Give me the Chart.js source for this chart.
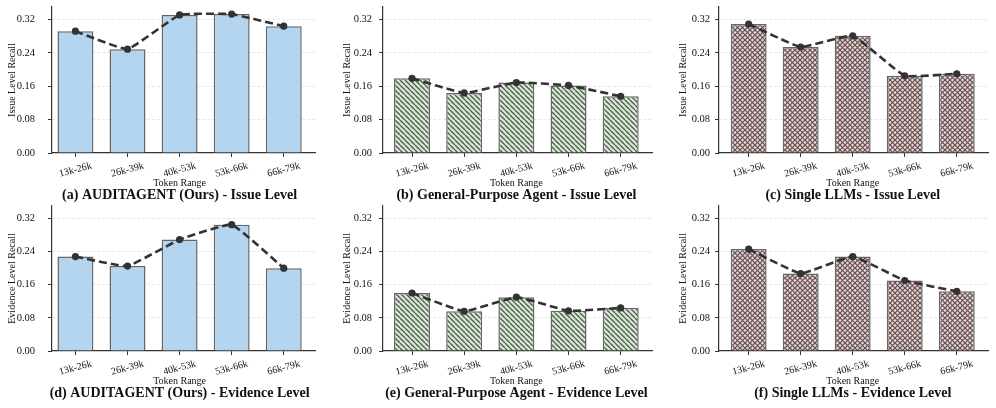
<!DOCTYPE html>
<html lang="en">
<head>
    <meta charset="UTF-8">
    <title>Recall by Token Range</title>
    <script src="https://cdn.jsdelivr.net/npm/chart.js"></script>
    <style>
        body { margin: 0; background: #fff; }
        .wrapper { position: relative; width: 996px; height: 408px; }
        .wrapper canvas { position: absolute; }
    </style>
</head>
<body>
    <div class="wrapper">
        <canvas id="chartA" style="left:0;top:0" width="330" height="204"></canvas>
        <canvas id="chartB" style="left:330px;top:0" width="330" height="204"></canvas>
        <canvas id="chartC" style="left:660px;top:0" width="336" height="204"></canvas>
        <canvas id="chartD" style="left:0;top:198px" width="330" height="210"></canvas>
        <canvas id="chartE" style="left:330px;top:198px" width="330" height="210"></canvas>
        <canvas id="chartF" style="left:660px;top:198px" width="336" height="210"></canvas>
    </div>

    <script>
        const categories = ['13k-26k', '26k-39k', '40k-53k', '53k-66k', '66k-79k'];
        const yTicks = [0, 0.08, 0.16, 0.24, 0.32];

        const auditIssue = [0.292, 0.249, 0.331, 0.333, 0.304];
        const generalIssue = [0.179, 0.144, 0.169, 0.162, 0.136];
        const singleIssue = [0.309, 0.254, 0.281, 0.185, 0.190];
        const auditEvidence = [0.228, 0.205, 0.269, 0.305, 0.200];
        const generalEvidence = [0.140, 0.096, 0.130, 0.097, 0.104];
        const singleEvidence = [0.246, 0.187, 0.228, 0.170, 0.144];

        const SERIF = "'Liberation Serif', 'DejaVu Serif', serif";

        // hatch tiles like matplotlib '\\' and 'xx'
        function makeFill(ctx, bg, kind) {
            if (kind === 'none') return bg;
            const s = 5;
            const tile = document.createElement('canvas');
            tile.width = s; tile.height = s;
            const t = tile.getContext('2d');
            t.fillStyle = bg;
            t.fillRect(0, 0, s, s);
            t.strokeStyle = '#555';
            t.lineWidth = kind === 'cross' ? 1.2 : 1.3;
            for (const x0 of [-s, 0, s]) {
                t.beginPath();
                t.moveTo(x0, 0); t.lineTo(x0 + s, s);
                t.stroke();
                if (kind === 'cross') {
                    t.beginPath();
                    t.moveTo(x0 + s, 0); t.lineTo(x0, s);
                    t.stroke();
                }
            }
            return ctx.createPattern(tile, 'repeat');
        }

        const bottomText = {
            id: 'bottomText',
            afterDraw(chart, args, opts) {
                const {ctx, chartArea} = chart;
                const xs = chart.scales.x;
                const yb = chartArea.bottom;
                ctx.save();
                ctx.fillStyle = '#111';
                ctx.textAlign = 'center';
                ctx.textBaseline = 'middle';
                ctx.font = '10px ' + SERIF;
                categories.forEach((c, i) => {
                    ctx.save();
                    ctx.translate(xs.getPixelForValue(i), yb + 17);
                    ctx.rotate(-15 * Math.PI / 180);
                    ctx.fillText(c, 0, 0);
                    ctx.restore();
                });
                const mid = xs.getPixelForValue(2);
                ctx.fillText('Token Range', mid, yb + 30);
                ctx.font = 'bold 14px ' + SERIF;
                ctx.fillText(opts.text, mid, yb + 42);
                ctx.restore();
            }
        };

        const panels = [
            {id: 'chartA', data: auditIssue, bg: '#b4d5f0', kind: 'none', yLabel: 'Issue Level Recall', title: '(a) AUDITAGENT (Ours) - Issue Level', padL: 6, padR: 15, padT: 7, padB: 4, xmin: -0.45, tPad: 0, tickPad: 13},
            {id: 'chartB', data: generalIssue, bg: '#d3ebcf', kind: 'diag', yLabel: 'Issue Level Recall', title: '(b) General-Purpose Agent - Issue Level', padL: 7, padR: 8, padT: 7, padB: 4, xmin: -0.556, tPad: 4, tickPad: 7},
            {id: 'chartC', data: singleIssue, bg: '#f8cdcd', kind: 'cross', yLabel: 'Issue Level Recall', title: '(c) Single LLMs - Issue Level', padL: 13, padR: 8, padT: 7, padB: 4, xmin: -0.57, tPad: 4, tickPad: 5},
            {id: 'chartD', data: auditEvidence, bg: '#b4d5f0', kind: 'none', yLabel: 'Evidence Level Recall', title: '(d) AUDITAGENT (Ours) - Evidence Level', padL: 6, padR: 15, padT: 8, padB: 10, xmin: -0.45, tPad: 0, tickPad: 13},
            {id: 'chartE', data: generalEvidence, bg: '#d3ebcf', kind: 'diag', yLabel: 'Evidence Level Recall', title: '(e) General-Purpose Agent - Evidence Level', padL: 7, padR: 8, padT: 8, padB: 10, xmin: -0.556, tPad: 4, tickPad: 7},
            {id: 'chartF', data: singleEvidence, bg: '#f8cdcd', kind: 'cross', yLabel: 'Evidence Level Recall', title: '(f) Single LLMs - Evidence Level', padL: 13, padR: 8, padT: 8, padB: 10, xmin: -0.57, tPad: 4, tickPad: 5}
        ];

        panels.forEach(p => {
            const ctx = document.getElementById(p.id).getContext('2d');
            const points = p.data.map((v, i) => ({x: i, y: v}));
            new Chart(ctx, {
                type: 'bar',
                data: {
                    datasets: [
                        {
                            type: 'line',
                            data: points,
                            borderColor: '#333',
                            borderWidth: 2.6,
                            borderDash: [8, 4],
                            tension: 0.1,
                            pointRadius: 3.6,
                            pointBackgroundColor: '#333',
                            pointBorderWidth: 0,
                            clip: false,
                            order: 0
                        },
                        {
                            data: points,
                            backgroundColor: makeFill(ctx, p.bg, p.kind),
                            borderColor: '#666',
                            borderWidth: 1.5,
                            barPercentage: 0.69,
                            categoryPercentage: 1,
                            order: 1
                        }
                    ]
                },
                options: {
                    responsive: false,
                    animation: false,
                    layout: {padding: {left: p.padL, right: p.padR, top: p.padT, bottom: p.padB}},
                    scales: {
                        x: {
                            type: 'linear',
                            min: p.xmin,
                            max: 4.6,
                            offset: false,
                            afterBuildTicks: s => { s.ticks = categories.map((c, i) => ({value: i})); },
                            afterFit: s => { s.height = 47; s.paddingLeft = 0; s.paddingRight = 0; },
                            ticks: {display: false},
                            grid: {offset: false, drawOnChartArea: false, drawTicks: true, tickLength: 4, tickColor: '#333', tickWidth: 1},
                            border: {display: true, color: '#333', width: 1.2}
                        },
                        y: {
                            min: 0,
                            max: 0.35,
                            afterBuildTicks: s => { s.ticks = yTicks.map(v => ({value: v})); },
                            afterFit: s => { s.width = 46; s.paddingTop = 0; s.paddingBottom = 0; },
                            ticks: {
                                color: '#111',
                                padding: p.tickPad,
                                font: {family: SERIF, size: 10.5},
                                callback: v => v.toFixed(2)
                            },
                            grid: {
                                color: c => c.tick && c.tick.value === 0 ? 'rgba(0,0,0,0)' : '#e0e0e0',
                                lineWidth: 0.8,
                                tickLength: 4,
                                tickColor: '#333',
                                tickWidth: 1
                            },
                            border: {display: true, color: '#333', width: 1.2, dash: [3, 2]},
                            title: {
                                display: true,
                                text: p.yLabel,
                                color: '#111',
                                padding: {top: p.tPad, bottom: 0},
                                font: {family: SERIF, size: 10}
                            }
                        }
                    },
                    plugins: {
                        legend: {display: false},
                        tooltip: {enabled: false},
                        bottomText: {text: p.title}
                    }
                },
                plugins: [bottomText]
            });
        });
    </script>
</body>
</html>
